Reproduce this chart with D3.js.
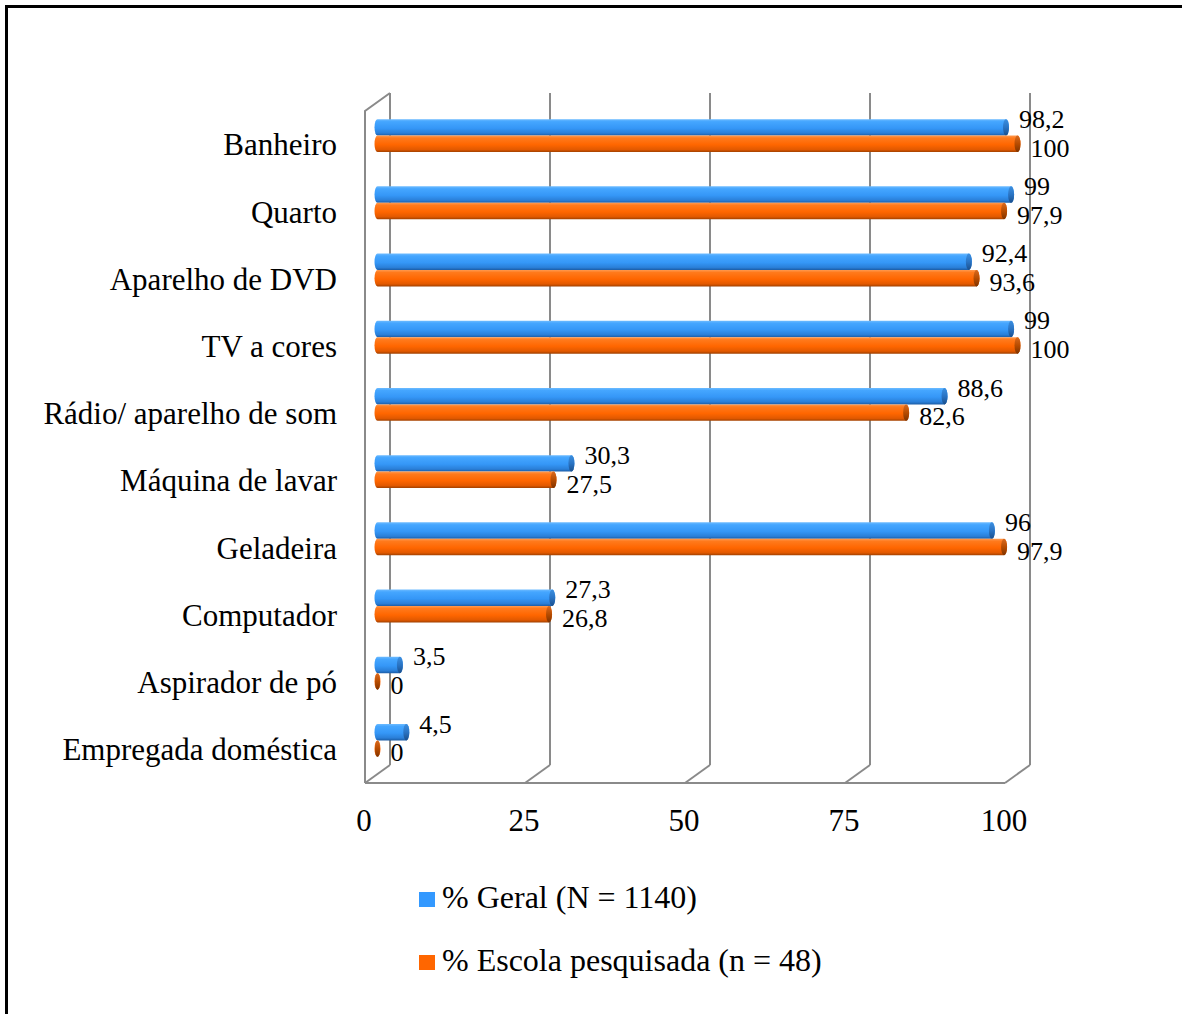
<!DOCTYPE html>
<html>
<head>
<meta charset="utf-8">
<script src="https://cdn.jsdelivr.net/npm/d3@7"></script>
<style>
  body { margin: 0; background: #fff; }
  svg text { fill: #000; }
</style>
</head>
<body>
<div id="chart"></div>
<script>
// categories, top to bottom
var categories = ["Banheiro", "Quarto", "Aparelho de DVD", "TV a cores", "Rádio/ aparelho de som",
                  "Máquina de lavar", "Geladeira", "Computador", "Aspirador de pó", "Empregada doméstica"];
var geral  = [98.2, 99, 92.4, 99, 88.6, 30.3, 96, 27.3, 3.5, 4.5];
var escola = [100, 97.9, 93.6, 100, 82.6, 27.5, 97.9, 26.8, 0, 0];
var seriesNames = ["% Geral (N = 1140)", "% Escola pesquisada (n = 48)"];
var seriesKeys = ["geral", "escola"];
var xTicks = [0, 25, 50, 75, 100];

document.addEventListener("DOMContentLoaded", function () {
    drawChart();
});

function drawChart() {
    const width = 1182, height = 1014;
    // 3d depth offset of the back wall
    const depthX = 25, depthY = -18;
    const serif = "'Liberation Serif', LiberationSerif, Tinos, 'DejaVu Serif', 'Noto Serif', FreeSerif, 'Times New Roman', serif";

    var data = categories.map((c, i) => ({cat: c, geral: geral[i], escola: escola[i]}));

    var svg = d3.select("#chart")
        .append("svg")
            .attr("width", width)
            .attr("height", height)
            .style("font-family", serif);

    var defs = svg.append("defs");
    function addGrad(id, stops) {
        var g = defs.append("linearGradient").attr("id", id)
            .attr("x1", 0).attr("y1", 0).attr("x2", 0).attr("y2", 1);
        stops.forEach(s => g.append("stop").attr("offset", s[0]).attr("stop-color", s[1]));
    }
    addGrad("gradBlue", [[0, "#6dbbff"], [0.15, "#45a6ff"], [0.55, "#3597f7"], [0.85, "#2a7fd8"], [1, "#1b5ca6"]]);
    addGrad("gradOrange", [[0, "#ff9a50"], [0.15, "#ff7a1c"], [0.55, "#ff6600"], [0.85, "#e25900"], [1, "#a04000"]]);
    addGrad("capBlue", [[0, "#3c8fe0"], [0.5, "#2a74c4"], [1, "#1a4f8c"]]);
    addGrad("capOrange", [[0, "#d86a20"], [0.5, "#b84c00"], [1, "#7e3300"]]);

    // outer frame
    svg.append("rect")
        .attr("x", 6.5).attr("y", 6.5)
        .attr("width", 1400).attr("height", 1200)
        .attr("fill", "none")
        .attr("stroke", "#000")
        .attr("stroke-width", 3);

    // front plane scales
    var xScale = d3.scaleLinear().domain([0, 100]).range([365, 1005]);
    var yScale = d3.scaleBand().domain(categories).range([111, 783])
        .paddingInner(0.51).paddingOuter(0.255);
    var ySeries = d3.scaleBand().domain(seriesKeys).range([0, yScale.bandwidth()]);

    var floorY = 783;
    var gridColor = "#8a8a8a";

    // back wall gridlines
    svg.append("g").selectAll("line")
        .data(xTicks)
        .join("line")
        .attr("x1", d => xScale(d) + depthX)
        .attr("x2", d => xScale(d) + depthX)
        .attr("y1", yScale.range()[0] + depthY)
        .attr("y2", floorY + depthY)
        .attr("stroke", gridColor)
        .attr("stroke-width", 2);

    // floor diagonals
    svg.append("g").selectAll("line")
        .data(xTicks)
        .join("line")
        .attr("x1", d => xScale(d))
        .attr("x2", d => xScale(d) + depthX)
        .attr("y1", floorY)
        .attr("y2", floorY + depthY)
        .attr("stroke", gridColor)
        .attr("stroke-width", 2);

    // floor front edge
    svg.append("line")
        .attr("x1", xScale(0)).attr("x2", xScale(100))
        .attr("y1", floorY).attr("y2", floorY)
        .attr("stroke", gridColor).attr("stroke-width", 2);

    // left wall
    svg.append("path")
        .attr("d", `M${xScale(0)},${floorY} L${xScale(0)},${yScale.range()[0]} L${xScale(0) + depthX},${yScale.range()[0] + depthY}`)
        .attr("fill", "none")
        .attr("stroke", gridColor)
        .attr("stroke-width", 2);

    // bars at middle depth
    var midX = depthX / 2, midY = depthY / 2;
    var rx = 3;
    var barG = svg.append("g").attr("transform", `translate(${midX},${midY})`);

    var fills = {geral: "url(#gradBlue)", escola: "url(#gradOrange)"};
    var caps = {geral: "url(#capBlue)", escola: "url(#capOrange)"};

    var groups = barG.selectAll(".cat")
        .data(data)
        .join("g")
        .attr("class", "cat")
        .attr("transform", d => `translate(0,${yScale(d.cat)})`);

    seriesKeys.forEach(function (key) {
        var h = ySeries.bandwidth();
        var ry = h / 2;
        groups.append("path")
            .attr("d", d => {
                var x0 = xScale(0), x1 = xScale(d[key]);
                var top = ySeries(key), bot = top + h;
                return `M${x0},${top} L${x1},${top} A${rx},${ry} 0 0 1 ${x1},${bot} L${x0},${bot} A${rx},${ry} 0 0 1 ${x0},${top} Z`;
            })
            .attr("fill", fills[key]);
        groups.append("ellipse")
            .attr("cx", d => xScale(d[key]))
            .attr("cy", ySeries(key) + ry)
            .attr("rx", d => d[key] === 0 ? 2.5 : rx)
            .attr("ry", ry)
            .attr("fill", caps[key]);
    });

    // value labels
    var fmt = v => String(v).replace(".", ",");
    groups.append("text")
        .attr("x", d => xScale(d.geral) + 13)
        .attr("y", yScale.bandwidth() / 2 - 17)
        .attr("dy", "0.35em")
        .style("font-size", "26px")
        .text(d => fmt(d.geral));
    groups.append("text")
        .attr("x", d => xScale(d.escola) + 13)
        .attr("y", yScale.bandwidth() / 2 + 12)
        .attr("dy", "0.35em")
        .style("font-size", "26px")
        .text(d => fmt(d.escola));

    // category labels (front plane)
    svg.append("g").selectAll("text")
        .data(categories)
        .join("text")
        .attr("x", 337)
        .attr("y", d => yScale(d) + yScale.bandwidth() / 2)
        .attr("dy", "0.35em")
        .attr("text-anchor", "end")
        .style("font-size", "31px")
        .text(d => d);

    // x tick labels
    svg.append("g").selectAll("text")
        .data(xTicks)
        .join("text")
        .attr("x", d => xScale(d) - 1)
        .attr("y", 831)
        .attr("text-anchor", "middle")
        .style("font-size", "31px")
        .text(d => d);

    // legend
    var legendColors = ["#3399ff", "#ff6600"];
    var legend = svg.append("g").selectAll("g")
        .data(seriesNames)
        .join("g")
        .attr("transform", (d, i) => `translate(419,${892 + i * 63})`);
    legend.append("rect")
        .attr("width", 16).attr("height", 15)
        .attr("fill", (d, i) => legendColors[i]);
    legend.append("text")
        .attr("x", 23)
        .attr("y", 16)
        .style("font-size", "32px")
        .text(d => d);
}
</script>
</body>
</html>
